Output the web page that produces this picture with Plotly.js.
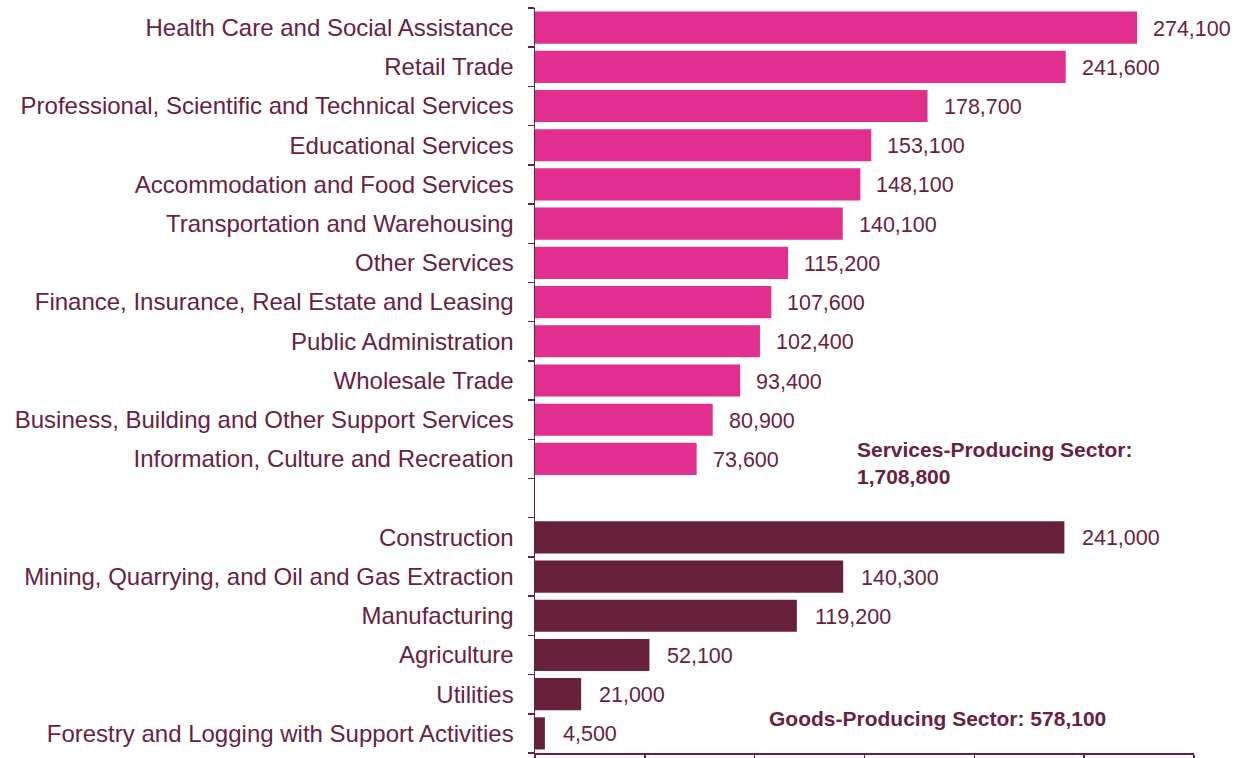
<!DOCTYPE html>
<html>
<head>
<meta charset="utf-8">
<script src="https://cdn.plot.ly/plotly-3.0.1.min.js"></script>
<style>html,body{margin:0;padding:0;background:#fff;}#chart{width:1245px;height:758px;}</style>
</head>
<body>
<div id="chart"></div>
<script>
const serviceIndustries = [
  "Health Care and Social Assistance",
  "Retail Trade",
  "Professional, Scientific and Technical Services",
  "Educational Services",
  "Accommodation and Food Services",
  "Transportation and Warehousing",
  "Other Services",
  "Finance, Insurance, Real Estate and Leasing",
  "Public Administration",
  "Wholesale Trade",
  "Business, Building and Other Support Services",
  "Information, Culture and Recreation"
];
const serviceValues = [274100, 241600, 178700, 153100, 148100, 140100, 115200, 107600, 102400, 93400, 80900, 73600];
const goodsIndustries = [
  "Construction",
  "Mining, Quarrying, and Oil and Gas Extraction",
  "Manufacturing",
  "Agriculture",
  "Utilities",
  "Forestry and Logging with Support Activities"
];
const goodsValues = [241000, 140300, 119200, 52100, 21000, 4500];
const gapCategory = " ";
const servicesTotalLabel = "Services-Producing Sector:<br>1,708,800";
const goodsTotalLabel = "Goods-Producing Sector: 578,100";

const maroon = "#6A2140";
const pink = "#E22E8F";
const goodsColor = "#67213C";
const categories = serviceIndustries.concat([gapCategory], goodsIndustries);
const fmt = v => v.toLocaleString("en-US");
const fontFam = "Liberation Sans, Arial, sans-serif";

const traces = [
  {type: "bar", orientation: "h", y: serviceIndustries, x: serviceValues,
   marker: {color: pink}, hoverinfo: "x+y"},
  {type: "bar", orientation: "h", y: goodsIndustries, x: goodsValues,
   marker: {color: goodsColor}, hoverinfo: "x+y"}
];

const valueFont = {family: fontFam, size: 21.5, color: maroon};
const annotations = [];
serviceIndustries.forEach((c, i) => annotations.push({x: serviceValues[i], y: c, text: fmt(serviceValues[i]),
  xanchor: "left", yanchor: "middle", xshift: 14, yshift: -1, showarrow: false, font: valueFont}));
goodsIndustries.forEach((c, i) => annotations.push({x: goodsValues[i], y: c, text: fmt(goodsValues[i]),
  xanchor: "left", yanchor: "middle", xshift: 16, yshift: -1, showarrow: false, font: valueFont}));
annotations.push({xref: "paper", yref: "paper", x: (855-535)/659, y: 1-(462-8)/744, xanchor: "left", yanchor: "middle",
  align: "left", text: "<b>" + servicesTotalLabel + "</b>", showarrow: false,
  font: {family: fontFam, size: 21, color: maroon}});
annotations.push({xref: "paper", yref: "paper", x: (767-535)/659, y: 1-(718-8)/744, xanchor: "left", yanchor: "middle",
  align: "left", text: "<b>" + goodsTotalLabel + "</b>", showarrow: false,
  font: {family: fontFam, size: 21, color: maroon}});

const layout = {
  width: 1245, height: 758,
  margin: {l: 535, r: 51, t: 8, b: 5},
  paper_bgcolor: "#fff", plot_bgcolor: "#fff",
  showlegend: false,
  bargap: 0.18,
  barmode: "overlay",
  xaxis: {range: [0, 300000], dtick: 50000, tick0: 0, showgrid: false, zeroline: false,
    showline: true, linecolor: maroon, linewidth: 1.5, ticks: "outside", ticklen: 6,
    tickcolor: maroon, tickwidth: 1.5, showticklabels: false, fixedrange: true},
  yaxis: {type: "category", categoryorder: "array", categoryarray: categories,
    tickvals: categories, ticktext: categories,
    range: [categories.length - 0.5, -0.5], showgrid: false, zeroline: false,
    showline: true, linecolor: maroon, linewidth: 1.5, ticks: "outside", ticklen: 6,
    tickcolor: maroon, tickwidth: 1.5, tickson: "boundaries", ticklabelstandoff: 15,
    tickfont: {family: fontFam, size: 24, color: maroon}, fixedrange: true},
  annotations: annotations
};

Plotly.newPlot("chart", traces, layout, {displayModeBar: false, staticPlot: true});
</script>
</body>
</html>
